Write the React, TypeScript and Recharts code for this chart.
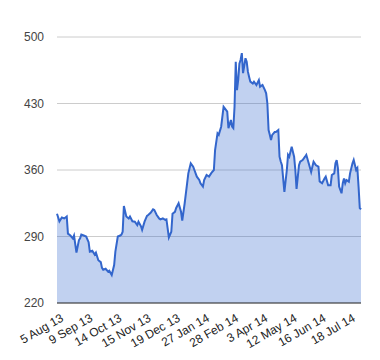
import React from 'react';
import { AreaChart, Area, XAxis, YAxis, CartesianGrid } from 'recharts';

// trading-day index from 5 Aug 13
const days = [
  0, 2, 4, 6, 8, 9, 11, 13, 14, 16, 18, 19, 20, 22, 24, 26, 27, 29, 31, 32,
  34, 36, 37, 38, 40, 42, 43, 45, 47, 48, 50, 52, 53, 54, 55, 57, 59, 60, 62, 64,
  66, 67, 69, 70, 72, 74, 75, 77, 79, 80, 82, 84, 85, 87, 89, 90, 92, 94, 95, 97,
  98, 100, 102, 103, 105, 107, 108, 110, 112, 113, 115, 117, 118, 120, 121, 123, 125, 127, 129, 130,
  132, 133, 135, 137, 138, 140, 141, 143, 144, 145, 146, 147, 148, 149, 150, 151, 152, 153, 155, 156,
  157, 158, 159, 161, 162, 164, 166, 167, 169, 171, 172, 173, 174, 175, 176, 177, 179, 180, 182, 183,
  184, 185, 187, 189, 190, 191, 193, 195, 196, 197, 199, 200, 202, 204, 205, 207, 209, 210, 211, 213,
  215, 216, 218, 220, 221, 223, 225, 226, 228, 229, 230, 231, 232, 234, 235, 236, 237, 238, 240, 241,
  243, 244, 246, 247, 248, 249, 250,
];

const prices = [
  314, 306, 310, 309, 311, 293, 291, 288, 291, 273, 286, 288, 292, 291, 290, 284, 274, 275, 271, 273,
  265, 263, 257, 255, 256, 253, 254, 249.5, 260, 274, 290, 291, 292, 295, 322, 311, 309, 311, 306, 305.6,
  302, 305.6, 301, 297, 305.6, 311.6, 312.6, 315, 318.6, 318, 312.6, 309, 308, 309, 307.4, 308, 289, 295, 314, 316,
  320, 325, 316, 306.6, 325, 346, 356.5, 367, 363.5, 360, 353, 349.5, 346, 342.5, 349.5, 354.7, 353, 357, 360, 381,
  398.6, 397, 405.6, 426.6, 425, 421.4, 404, 412.6, 405.6, 404, 426.6, 474, 444, 454.7, 472, 476, 483, 462, 477.6, 474,
  463.5, 458, 453, 451, 453, 449.5, 454.7, 447.7, 449.5, 444, 440.7, 430, 402, 397, 391.6, 397, 400, 400, 402, 374,
  369, 365, 337, 360, 376, 374, 384.5, 374, 360, 340, 365, 368.7, 370.5, 374, 376, 367, 358, 363.5, 368.7, 365,
  363.5, 348, 346, 351, 353, 344, 344, 354.7, 356.5, 367, 370.5, 362, 342.5, 335.5, 346, 351, 346, 349.5, 347.7, 356.5,
  367, 370.5, 360, 362, 342.5, 320, 318.6,
];

const tickDays = [0, 24, 48, 72, 96, 120, 144, 168, 192, 216, 240];
const tickLabels = [
  '5 Aug 13', '9 Sep 13', '14 Oct 13', '15 Nov 13', '19 Dec 13', '27 Jan 14',
  '28 Feb 14', '3 Apr 14', '12 May 14', '16 Jun 14', '18 Jul 14',
];
const yTicks = [220, 290, 360, 430, 500];

const data = days.map((d, i) => ({ day: d, price: prices[i] }));

const font = 'Arial, "Liberation Sans", sans-serif';

export default function App() {
  return (
    <div style={{ position: 'absolute', left: 0, top: 0, background: '#fff' }}>
      <AreaChart
        width={380}
        height={360}
        data={data}
        margin={{ top: 37, right: 19, left: 0, bottom: 0 }}
        style={{ fontFamily: font }}
      >
        <CartesianGrid vertical={false} stroke="#cccccc" />
        <XAxis
          dataKey="day"
          type="number"
          domain={[0, 250]}
          ticks={tickDays}
          tickFormatter={(v: number) => tickLabels[tickDays.indexOf(v)] ?? ''}
          interval={0}
          height={57}
          angle={-30}
          textAnchor="end"
          tickLine={false}
          tickSize={0}
          tickMargin={10}
          axisLine={{ stroke: '#333333' }}
          tick={{ fill: '#222222', fontSize: 12, fontFamily: font, dx: 3 }}
        />
        <YAxis
          domain={[220, 500]}
          ticks={yTicks}
          width={57}
          axisLine={false}
          tickLine={false}
          tickSize={0}
          tickMargin={13}
          tick={{ fill: '#444444', fontSize: 12, fontFamily: font }}
        />
        <Area
          type="linear"
          dataKey="price"
          stroke="#3366cc"
          strokeWidth={2}
          fill="#3366cc"
          fillOpacity={0.3}
          isAnimationActive={false}
          dot={false}
          activeDot={false}
        />
      </AreaChart>
    </div>
  );
}
